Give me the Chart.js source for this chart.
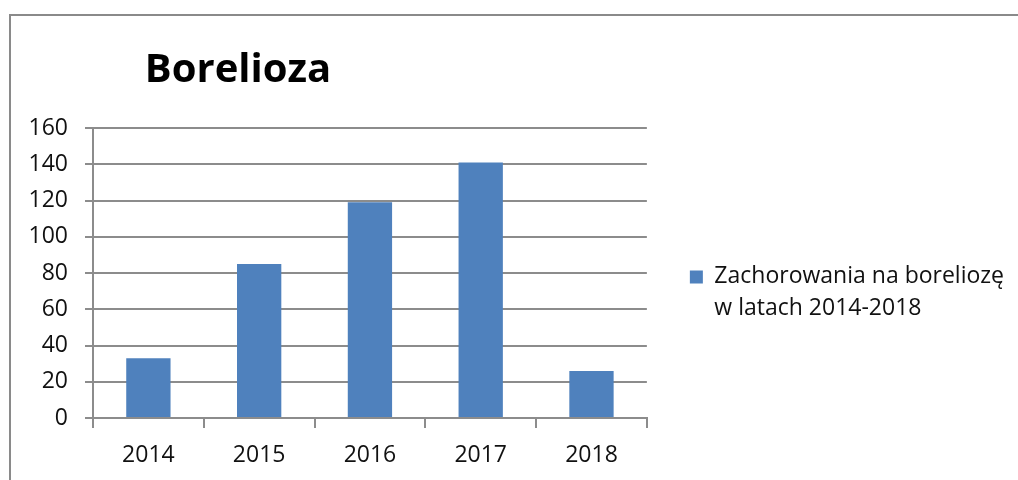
<!DOCTYPE html>
<html>
<head>
<meta charset="utf-8">
<title>Borelioza</title>
<script src="https://cdn.jsdelivr.net/npm/chart.js@4/dist/chart.umd.min.js"></script>
<style>
    html, body { margin: 0; padding: 0; background: #fff; }
    #wrap { position: relative; width: 1018px; height: 480px; overflow: hidden; }
    #frame {
        position: absolute; left: 9px; top: 14px; right: -4px; bottom: -4px;
        border-top: 2px solid #8a8a8a; border-left: 2px solid #8a8a8a;
    }
    canvas { position: absolute; left: 0; top: 0; }
</style>
</head>
<body>
<div id="wrap">
    <div id="frame"></div>
    <canvas id="boreliozaChart" width="1018" height="480"></canvas>
</div>
<script>
const chartTitle = "Borelioza";
const years = ["2014", "2015", "2016", "2017", "2018"];
const cases = [33, 85, 119, 141, 26];
const legendLines = ["Zachorowania na boreliozę", "w latach 2014-2018"];
const yMin = 0;
const yMax = 160;
const yStep = 20;

const barColor = "#4f81bd";
const gridColor = "#8c8c8c";
const textColor = "#111";
const font = { family: "'Open Sans', sans-serif", size: 23 };

// Title sits left of centre, over the plot, like the Excel original
const titlePlugin = {
    id: "leftTitle",
    afterDraw(chart) {
        const ctx = chart.ctx;
        ctx.save();
        ctx.font = "bold 40px 'Open Sans', sans-serif";
        ctx.fillStyle = "#000";
        ctx.textAlign = "center";
        ctx.textBaseline = "alphabetic";
        ctx.fillText(chartTitle, 238, 82);
        ctx.restore();
    },
};

const ctx = document.getElementById("boreliozaChart").getContext("2d");
new Chart(ctx, {
    type: "bar",
    data: {
        labels: years,
        datasets: [
            {
                label: legendLines.join(" "),
                data: cases,
                backgroundColor: barColor,
                borderWidth: 0,
                barPercentage: 0.4,
                categoryPercentage: 1.0,
            },
        ],
    },
    options: {
        responsive: false,
        animation: false,
        devicePixelRatio: 1,
        layout: {
            padding: { top: 128, left: 0, right: 4, bottom: 0 },
        },
        scales: {
            x: {
                afterFit: (scale) => { scale.height = 62; },
                grid: {
                    drawOnChartArea: false,
                    drawTicks: true,
                    tickLength: 10,
                    color: gridColor,
                    lineWidth: 2,
                },
                border: { display: true, color: gridColor, width: 2 },
                ticks: { font: font, color: textColor, padding: 14 },
            },
            y: {
                min: yMin,
                max: yMax,
                afterFit: (scale) => { scale.width = 93; },
                grid: {
                    color: gridColor,
                    lineWidth: 2,
                    tickLength: 8,
                },
                border: { display: true, color: gridColor, width: 2 },
                ticks: { stepSize: yStep, font: font, color: textColor, padding: 17 },
            },
        },
        plugins: {
            title: { display: false },
            tooltip: { enabled: false },
            legend: {
                position: "right",
                fullSize: false,
                maxWidth: 370,
                title: {
                    display: true,
                    text: "",
                    font: { size: 1, lineHeight: 1 },
                    padding: { top: 46, bottom: 0 },
                },
                labels: {
                    boxWidth: 13,
                    boxHeight: 13,
                    padding: 43,
                    color: textColor,
                    font: { family: font.family, size: 23, lineHeight: 1.35 },
                    generateLabels: () => [
                        {
                            text: legendLines,
                            fillStyle: barColor,
                            strokeStyle: barColor,
                            fontColor: textColor,
                            lineWidth: 0,
                            hidden: false,
                            datasetIndex: 0,
                        },
                    ],
                },
            },
        },
    },
    plugins: [titlePlugin],
});
</script>
</body>
</html>
